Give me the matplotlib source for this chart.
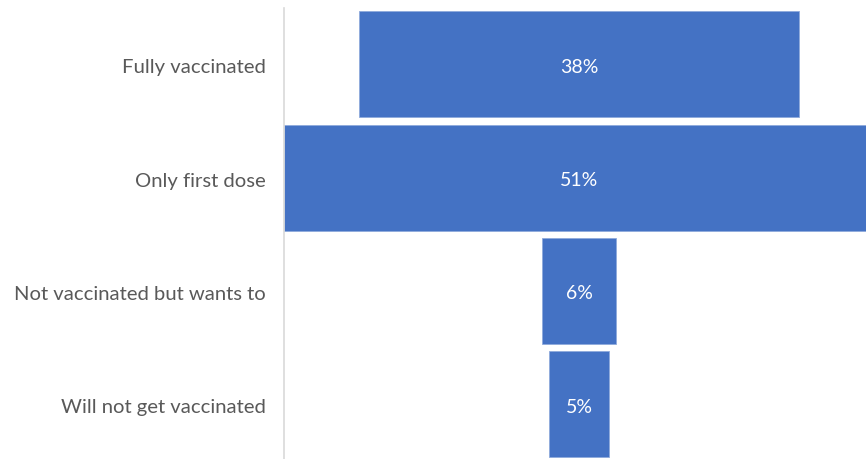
import matplotlib
matplotlib.use("Agg")
import matplotlib.pyplot as plt
from matplotlib.transforms import ScaledTranslation

categories = ["Fully vaccinated", "Only first dose", "Not vaccinated but wants to", "Will not get vaccinated"]
values = [38.0, 51.0, 6.4, 5.2]
labels = ["38%", "51%", "6%", "5%"]

plt.rcParams['font.family'] = ['Lato', 'DejaVu Sans']

fig = plt.figure(figsize=(8.66, 4.59), dpi=100)
W, H = 866, 459
left_px, right_px = 284, 874
top_px, bottom_px = 7.7, 461
ax = fig.add_axes([left_px / W, 1 - bottom_px / H, (right_px - left_px) / W, (bottom_px - top_px) / H])

color = "#4472C4"
ys = list(range(len(categories)))
ax.barh(ys, values, left=[-v / 2 for v in values], height=0.935, color=color,
        edgecolor="#8FAADC", linewidth=0.6)
for y, lab in zip(ys, labels):
    ax.text(0, y + 0.025, lab, ha="center", va="center", color="white", fontsize=14)

ax.set_xlim(-25.5, 25.5)
ax.set_ylim(3.5, -0.5)
ax.set_yticks(ys)
ax.set_yticklabels(categories, fontsize=14.6, color="#595959")
ax.tick_params(axis="y", length=0, pad=13)
offset = ScaledTranslation(0, -2 / 100, fig.dpi_scale_trans)
for t in ax.get_yticklabels():
    t.set_transform(t.get_transform() + offset)
ax.set_xticks([])
for s in ["top", "right", "bottom"]:
    ax.spines[s].set_visible(False)
ax.spines["left"].set_color("#D9D9D9")
ax.spines["left"].set_linewidth(1.2)

fig.savefig("out.png", dpi=100)
